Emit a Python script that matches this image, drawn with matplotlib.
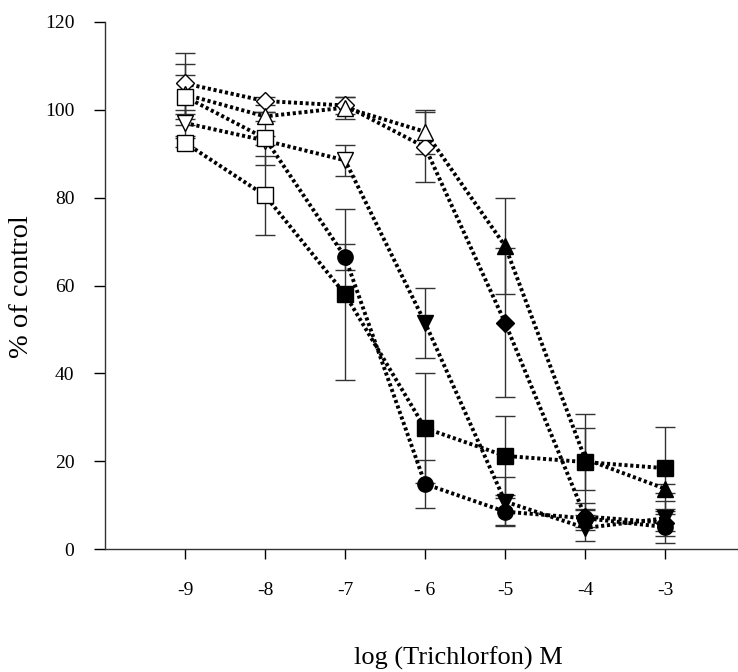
import numpy as np
import matplotlib.pyplot as plt

plt.rcParams['font.family'] = ['Liberation Serif', 'DejaVu Serif']

log_conc = [-9, -8, -7, -6, -5, -4, -3]
tick_labels = ['-9', '-8', '-7', '- 6', '-5', '-4', '-3']

# mean % of control and error for each series
diamond = [106, 102, 101, 91.5, 51.5, 7.4, 6]
diamond_err = [7, 1, 2, 8, 17, 3, 2]
diamond_filled = [False, False, False, False, True, True, True]

tri_up = [103.5, 98.5, 100.5, 95, 69, 20.5, 13.7]
tri_up_err = [7, 1, 2.5, 5, 11, 7, 1]
tri_up_filled = [False, False, False, False, True, True, True]

tri_down = [97, 93, 88.5, 51.5, 10.8, 4.8, 7]
tri_down_err = [3, 1, 3.5, 8, 5.5, 3, 4]
tri_down_filled = [False, False, False, True, True, True, True]

circle = [103, 93.5, 66.5, 14.8, 8.5, 7, 5]
circle_err = [5, 6, 3, 5.5, 3, 2, 3.6]
circle_filled = [False, False, True, True, True, True, True]

square = [92.5, 80.5, 58, 27.5, 21.2, 19.8, 18.4]
square_err = [1, 9, 19.5, 12.5, 9, 11, 9.3]
square_filled = [False, False, True, True, True, True, True]

series = [
    (diamond, diamond_err, diamond_filled, 'D', 'D', 9),
    (tri_up, tri_up_err, tri_up_filled, '^', '^', 11),
    (tri_down, tri_down_err, tri_down_filled, 'v', 'v', 11),
    (circle, circle_err, circle_filled, 's', 'o', 11),
    (square, square_err, square_filled, 's', 's', 11),
]

fig = plt.figure(figsize=(7.38, 6.72), dpi=100)
ax = fig.add_axes([105 / 738, 1 - 549 / 672, 633 / 738, 527 / 672])

x = np.array(log_conc)
for vals, errs, filled, open_m, fill_m, ms in series:
    vals = np.array(vals)
    ax.errorbar(x, vals, yerr=errs, fmt='none', ecolor='#333333',
                elinewidth=1, capsize=7, capthick=1, zorder=2)
    ax.plot(x, vals, color='black', lw=2.8, linestyle=(0, (0.8, 0.7)),
            dash_capstyle='butt', zorder=3)
    for xi, yi, f in zip(x, vals, filled):
        if f:
            ax.plot(xi, yi, marker=fill_m, ms=ms, color='black',
                    mec='black', ls='none', zorder=4)
        else:
            ax.plot(xi, yi, marker=open_m, ms=ms, mfc='white',
                    mec='black', mew=1, ls='none', zorder=4)

ax.set_xlim(-10, -2.09)
ax.set_ylim(0, 120)
ax.set_xticks(log_conc)
ax.set_xticklabels(tick_labels)
ax.set_yticks(np.arange(0, 121, 20))
ax.spines['top'].set_visible(False)
ax.spines['right'].set_visible(False)
for s in ['left', 'bottom']:
    ax.spines[s].set_linewidth(1)
    ax.spines[s].set_color('#333333')
ax.tick_params(axis='x', direction='out', length=7, width=1, pad=17, labelsize=14)
ax.tick_params(axis='y', direction='out', length=8, width=1, pad=14, labelsize=14)

ax.set_xlabel('log (Trichlorfon) M', fontsize=19)
ax.xaxis.set_label_coords((458 - 105) / 633, (549 - 658) / 527)
ax.xaxis.label.set_va('center')
ax.set_ylabel('% of control', fontsize=20.5)
ax.yaxis.set_label_coords((22 - 105) / 633, (549 - 287) / 527)
ax.yaxis.label.set_va('center')

fig.savefig('out.png', dpi=100)
